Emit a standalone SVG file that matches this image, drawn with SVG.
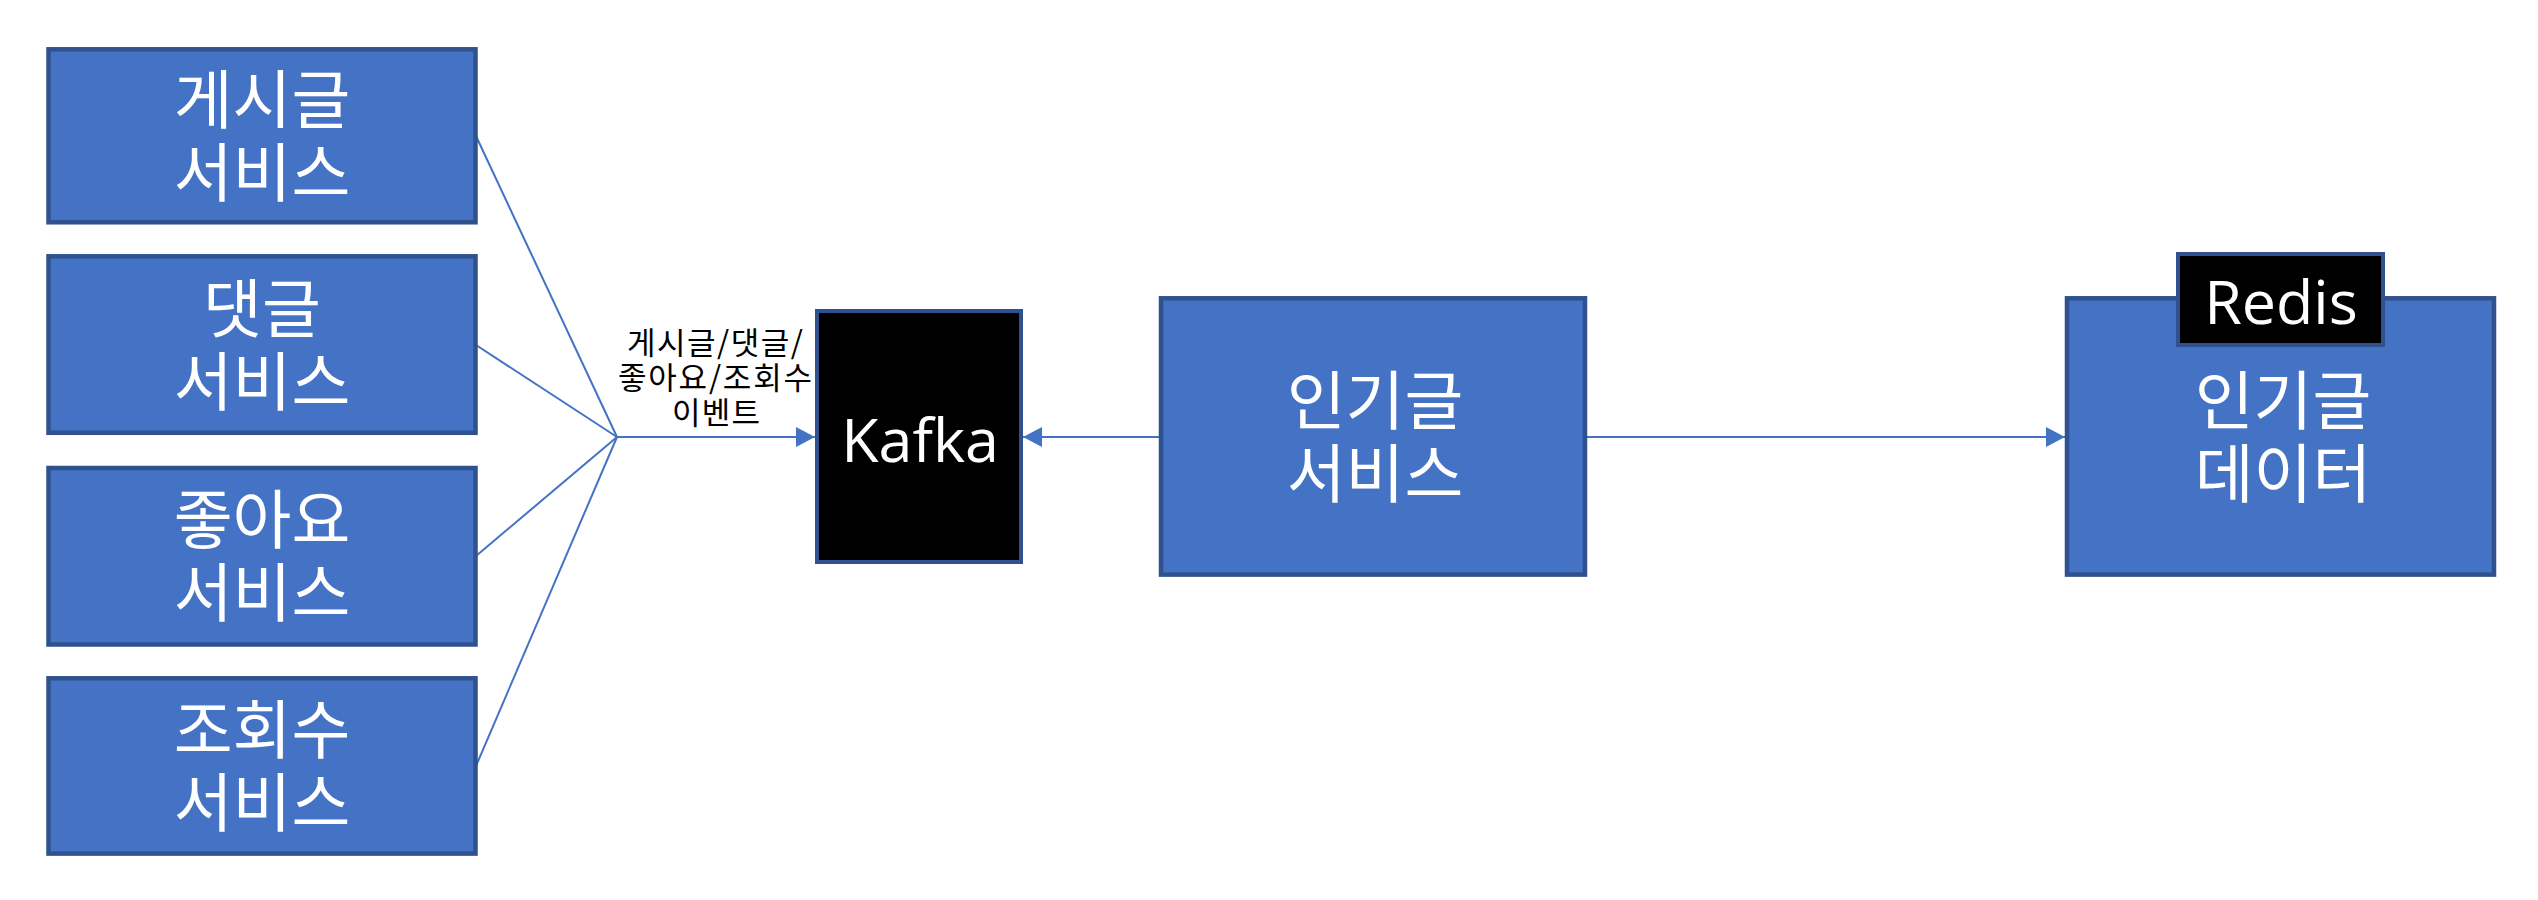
<svg xmlns="http://www.w3.org/2000/svg" width="2538" height="900" viewBox="0 0 2538 900">
  <style>
    .svc { fill: #4472C4; stroke: #2F528F; stroke-width: 4.5; }
    .blk { fill: #000000; stroke: #2F528F; stroke-width: 4; }
    .big { font-family: "Noto Sans CJK KR", "Noto Sans", sans-serif; font-size: 64px; fill: #FFFFFF; text-anchor: middle; }
    .lat { font-family: "Open Sans", "Noto Sans", sans-serif; font-size: 61px; fill: #FFFFFF; text-anchor: middle; }
    .lbl { font-family: "Noto Sans CJK KR", "Noto Sans", sans-serif; font-size: 31px; fill: #000000; text-anchor: middle; }
    .edge { stroke: #4472C4; stroke-width: 2; fill: none; }
  </style>
  <defs>
    <marker id="arrow" markerUnits="userSpaceOnUse" markerWidth="20" markerHeight="22" refX="19" refY="10" orient="auto">
      <path d="M0,0 L19,10 L0,20 Z" fill="#4472C4"/>
    </marker>
  </defs>
  <rect width="2538" height="900" fill="#FFFFFF"/>

  <g id="connectors">
    <line class="edge" x1="476" y1="136" x2="617" y2="437"/>
    <line class="edge" x1="476" y1="345" x2="617" y2="437"/>
    <line class="edge" x1="476" y1="556" x2="617" y2="437"/>
    <line class="edge" x1="476" y1="766" x2="617" y2="437"/>
    <line class="edge" x1="617" y1="437" x2="815" y2="437" marker-end="url(#arrow)"/>
    <line class="edge" x1="1159" y1="437" x2="1023" y2="437" marker-end="url(#arrow)"/>
    <line class="edge" x1="1587" y1="437" x2="2065" y2="437" marker-end="url(#arrow)"/>
    <g id="edge-label">
      <text class="lbl" x="715" y="354" textLength="176" lengthAdjust="spacing">게시글/댓글/</text>
      <text class="lbl" x="715" y="389" textLength="194" lengthAdjust="spacing">좋아요/조회수</text>
      <text class="lbl" x="716" y="424" textLength="88" lengthAdjust="spacing">이벤트</text>
    </g>
  </g>

  <g id="post-service">
    <rect class="svc" x="48.5" y="49.3" width="427" height="173"/>
    <text class="big" x="262" y="123">게시글</text>
    <text class="big" x="262" y="196">서비스</text>
  </g>
  <g id="comment-service">
    <rect class="svc" x="48.5" y="256.3" width="427" height="176.5"/>
    <text class="big" x="262" y="331.5">댓글</text>
    <text class="big" x="262" y="404.5">서비스</text>
  </g>
  <g id="like-service">
    <rect class="svc" x="48.5" y="468" width="427" height="176.5"/>
    <text class="big" x="262" y="543">좋아요</text>
    <text class="big" x="262" y="616">서비스</text>
  </g>
  <g id="view-service">
    <rect class="svc" x="48.5" y="678.3" width="427" height="175.3"/>
    <text class="big" x="262" y="753">조회수</text>
    <text class="big" x="262" y="826">서비스</text>
  </g>

  <g id="kafka">
    <rect class="blk" x="817" y="311" width="204" height="251"/>
    <text class="lat" x="920" y="461.7">Kafka</text>
  </g>

  <g id="popular-service">
    <rect class="svc" x="1161" y="298.3" width="424" height="276.3"/>
    <text class="big" x="1375" y="423.5">인기글</text>
    <text class="big" x="1375" y="496.5">서비스</text>
  </g>

  <g id="popular-data">
    <rect class="svc" x="2067" y="298.3" width="427" height="276.3"/>
    <text class="big" x="2283" y="423.5">인기글</text>
    <text class="big" x="2283" y="496.5">데이터</text>
  </g>

  <g id="redis">
    <rect class="blk" x="2178" y="254" width="205" height="91"/>
    <text class="lat" x="2281" y="324">Redis</text>
  </g>
</svg>
